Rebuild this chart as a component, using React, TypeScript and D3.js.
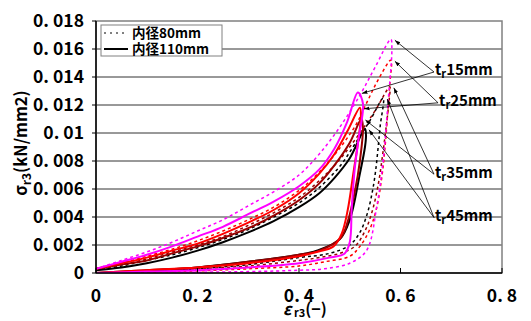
import React from "react";
import * as d3 from "d3";

const width = 531;
const height = 321;
const margin = { top: 21, right: 29, bottom: 48, left: 96 };
const plotW = width - margin.left - margin.right;
const plotH = height - margin.top - margin.bottom;

const FONT = "'Noto Sans CJK JP', 'Noto Sans', sans-serif";

const xTicks = [0, 0.2, 0.4, 0.6, 0.8];
const xTickLabels = ["0", "0. 2", "0. 4", "0. 6", "0. 8"];
const yTicks = [0, 0.002, 0.004, 0.006, 0.008, 0.01, 0.012, 0.014, 0.016, 0.018];
const yTickLabels = ["0", "0. 002", "0. 004", "0. 006", "0. 008", "0. 01", "0. 012", "0. 014", "0. 016", "0. 018"];

// each loop: upper branch from origin to peak, then lower branch back to origin
// inner diameter 110mm (solid)
const mag110: [number, number][] = [
  [0, 0.0003], [0.05, 0.0008], [0.1, 0.0013], [0.15, 0.0019], [0.2, 0.0026], [0.25, 0.0033],
  [0.3, 0.0042], [0.35, 0.0051], [0.4, 0.0062], [0.44, 0.0074], [0.47, 0.0089], [0.495, 0.0108],
  [0.516, 0.0129],
  [0.526, 0.0121], [0.517, 0.0095], [0.51, 0.0075], [0.504, 0.0047], [0.5, 0.0022],
  [0.49, 0.0014], [0.46, 0.0011], [0.4, 0.0007], [0.3, 0.0004], [0.2, 0.0002], [0.1, 0.0001], [0, 0],
];
const red110: [number, number][] = [
  [0, 0.0003], [0.05, 0.0007], [0.1, 0.0011], [0.15, 0.0016], [0.2, 0.0021], [0.25, 0.0028],
  [0.3, 0.0036], [0.35, 0.0045], [0.4, 0.0057], [0.44, 0.0071], [0.47, 0.0085], [0.495, 0.0101],
  [0.52, 0.0118],
  [0.522, 0.0112], [0.517, 0.0095], [0.507, 0.0071], [0.496, 0.0045], [0.484, 0.0028],
  [0.468, 0.0019], [0.435, 0.0015], [0.4, 0.0012], [0.3, 0.0007], [0.2, 0.0004], [0.1, 0.0002], [0, 0],
];
const dred110: [number, number][] = [
  [0, 0.0003], [0.05, 0.0006], [0.1, 0.0009], [0.15, 0.0014], [0.2, 0.0019], [0.25, 0.0025],
  [0.3, 0.0032], [0.35, 0.0041], [0.4, 0.0052], [0.44, 0.0064], [0.47, 0.0077], [0.5, 0.0093],
  [0.523, 0.011],
  [0.526, 0.0104], [0.52, 0.008], [0.51, 0.0058], [0.497, 0.0038], [0.482, 0.0025],
  [0.44, 0.0016], [0.4, 0.0013], [0.3, 0.0008], [0.2, 0.0004], [0.1, 0.0002], [0, 0],
];
const blk110: [number, number][] = [
  [0, 0.0002], [0.05, 0.0004], [0.1, 0.0007], [0.15, 0.0011], [0.2, 0.0016], [0.25, 0.0022],
  [0.3, 0.0029], [0.35, 0.0037], [0.4, 0.0047], [0.44, 0.0057], [0.47, 0.0068], [0.5, 0.0082],
  [0.53, 0.0103],
  [0.532, 0.0098], [0.53, 0.009], [0.52, 0.0071], [0.5, 0.0038], [0.48, 0.0024],
  [0.435, 0.0016], [0.4, 0.0013], [0.3, 0.0008], [0.2, 0.0004], [0.12, 0.0002], [0, 0],
];
// inner diameter 80mm (dotted)
const mag80: [number, number][] = [
  [0, 0.0003], [0.05, 0.0009], [0.1, 0.0015], [0.15, 0.0022], [0.2, 0.003], [0.25, 0.0038],
  [0.3, 0.0048], [0.35, 0.0058], [0.4, 0.007], [0.44, 0.0085], [0.48, 0.0104], [0.52, 0.0127],
  [0.55, 0.0147], [0.581, 0.0167],
  [0.583, 0.016], [0.575, 0.012], [0.566, 0.0081], [0.553, 0.0047], [0.533, 0.0016],
  [0.5, 0.0007], [0.45, 0.0003], [0.4, 0.0002], [0.3, 0.0001], [0, 0],
];
const red80: [number, number][] = [
  [0, 0.0003], [0.05, 0.0007], [0.1, 0.0012], [0.15, 0.0017], [0.2, 0.0023], [0.25, 0.003],
  [0.3, 0.0038], [0.35, 0.0047], [0.4, 0.0059], [0.44, 0.0072], [0.48, 0.0089], [0.514, 0.0107],
  [0.534, 0.0122], [0.556, 0.0138], [0.581, 0.0152],
  [0.579, 0.0135], [0.575, 0.0115], [0.569, 0.0088], [0.563, 0.0068], [0.552, 0.0045],
  [0.538, 0.003], [0.52, 0.0019], [0.5, 0.0012], [0.45, 0.0008], [0.4, 0.0005], [0.3, 0.0003],
  [0.2, 0.00015], [0, 0],
];
const dred80: [number, number][] = [
  [0, 0.0003], [0.05, 0.0006], [0.1, 0.001], [0.15, 0.0015], [0.2, 0.002], [0.25, 0.0026],
  [0.3, 0.0034], [0.35, 0.0043], [0.4, 0.0054], [0.44, 0.0066], [0.48, 0.0081], [0.52, 0.01],
  [0.55, 0.0116], [0.579, 0.0133],
  [0.578, 0.0125], [0.572, 0.0105], [0.565, 0.0085], [0.557, 0.0065], [0.545, 0.0045],
  [0.53, 0.003], [0.51, 0.0019], [0.48, 0.0014], [0.44, 0.0011], [0.4, 0.0009], [0.3, 0.0005],
  [0.2, 0.0003], [0.1, 0.0001], [0, 0],
];
const blk80: [number, number][] = [
  [0, 0.0002], [0.05, 0.0005], [0.1, 0.0009], [0.15, 0.0013], [0.2, 0.0018], [0.25, 0.0024],
  [0.3, 0.0031], [0.35, 0.004], [0.4, 0.005], [0.44, 0.0061], [0.48, 0.0076], [0.51, 0.0092],
  [0.54, 0.0109], [0.566, 0.0125],
  [0.56, 0.0105], [0.556, 0.009], [0.551, 0.0073], [0.545, 0.0059], [0.535, 0.0043],
  [0.52, 0.0029], [0.5, 0.002], [0.46, 0.0014], [0.4, 0.0011], [0.3, 0.0006], [0.2, 0.0003],
  [0.1, 0.0001], [0, 0],
];

const series = [
  { pts: blk80, color: "#000000", dashed: true },
  { pts: dred80, color: "#990000", dashed: true },
  { pts: red80, color: "#FF0000", dashed: true },
  { pts: mag80, color: "#FF00FF", dashed: true },
  { pts: blk110, color: "#000000", dashed: false },
  { pts: dred110, color: "#990000", dashed: false },
  { pts: red110, color: "#FF0000", dashed: false },
  { pts: mag110, color: "#FF00FF", dashed: false },
];

// annotation labels (data coords of label left/center) and the loops they point to
const notes = [
  { t: "15", eps: 0.668, sig: 0.0145, targets: [mag80, mag110] },
  { t: "25", eps: 0.676, sig: 0.0123, targets: [red80, red110] },
  { t: "35", eps: 0.668, sig: 0.0072, targets: [dred80, dred110] },
  { t: "45", eps: 0.668, sig: 0.0041, targets: [blk80, blk110] },
];

const peak = (pts: [number, number][]) => pts.reduce((a, b) => (b[1] > a[1] ? b : a));

export default function App() {
  const x = d3.scaleLinear().domain([0, 0.8]).range([margin.left, margin.left + plotW]);
  const y = d3.scaleLinear().domain([0, 0.018]).range([margin.top + plotH, margin.top]);
  const line = d3
    .line<[number, number]>()
    .x((d) => x(d[0]))
    .y((d) => y(d[1]))
    .curve(d3.curveCatmullRom.alpha(0.5));

  const x0 = x(0), x1 = x(0.8), y0 = y(0), y1 = y(0.018);

  return (
    <svg width={width} height={height} style={{ position: "absolute", left: 0, top: 0, background: "#fff" }}
      fontFamily={FONT} fontWeight="bold">
      <defs>
        <marker id="ah" viewBox="0 0 10 10" refX="10" refY="5" markerWidth="7" markerHeight="7" orient="auto">
          <path d="M0,1.5 L10,5 L0,8.5 Z" fill="#000" />
        </marker>
        <clipPath id="plot">
          <rect x={x0} y={y1} width={x1 - x0} height={y0 - y1} />
        </clipPath>
      </defs>

      {/* grid */}
      {yTicks.slice(1, -1).map((v) => (
        <line key={v} x1={x0} x2={x1} y1={y(v)} y2={y(v)} stroke="#333" strokeWidth={1} />
      ))}
      <rect x={x0} y={y1} width={x1 - x0} height={y0 - y1} fill="none" stroke="#808080" strokeWidth={1.5} />

      {/* curves */}
      <g clipPath="url(#plot)">
        {series.map((s, i) => (
          <path key={i} d={line(s.pts) || ""} fill="none" stroke={s.color}
            strokeWidth={s.dashed ? 1.5 : 2}
            strokeDasharray={s.dashed ? "3,3" : undefined} strokeLinejoin="round" />
        ))}
      </g>

      {/* axes */}
      <line x1={x0} x2={x0} y1={y1} y2={y0} stroke="#000" strokeWidth={1.5} />
      <line x1={x0} x2={x1} y1={y0} y2={y0} stroke="#000" strokeWidth={1.5} />
      {yTicks.map((v, i) => (
        <g key={v}>
          <line x1={x0 - 4} x2={x0} y1={y(v)} y2={y(v)} stroke="#000" />
          <text x={x0 - 12} y={y(v)} dy="0.36em" textAnchor="end" fontSize={17.5}>{yTickLabels[i]}</text>
        </g>
      ))}
      {xTicks.map((v, i) => (
        <g key={v}>
          <line x1={x(v)} x2={x(v)} y1={y0} y2={y0 - 5} stroke="#000" />
          <text x={x(v)} y={y0 + 29} textAnchor="middle" fontSize={17.5}>{xTickLabels[i]}</text>
        </g>
      ))}

      {/* axis titles */}
      <text transform={`translate(27,${(y0 + y1) / 2 - 4}) rotate(-90)`} textAnchor="middle" fontSize={16.5}>
        σ<tspan dy={4} fontSize={12}>r3</tspan><tspan dy={-4}>(kN/mm2)</tspan>
      </text>
      <text x={x(0.4) - 16} y={y0 + 42} fontSize={16}>
        <tspan fontStyle="italic">ε</tspan><tspan dy={2} fontSize={11}> r3</tspan><tspan dy={-2}>(−)</tspan>
      </text>

      {/* annotations */}
      {notes.map((n) => {
        const lx = x(n.eps);
        const ly = y(n.sig);
        return (
          <g key={n.t}>
            {n.targets.map((pts, j) => {
              const p = peak(pts);
              return (
                <line key={j} x1={lx - 1} y1={ly + 2} x2={x(p[0]) + 4} y2={y(p[1]) + 1}
                  stroke="#000" strokeWidth={0.8} markerEnd="url(#ah)" />
              );
            })}
            <text x={lx} y={ly} dy="0.36em" fontSize={15}>
              t<tspan dy={3} fontSize={11}>r</tspan><tspan dy={-3}>{n.t}mm</tspan>
            </text>
          </g>
        );
      })}

      {/* legend */}
      <g>
        <rect x={101} y={25} width={121} height={31} fill="#fff" stroke="#808080" />
        <line x1={104} x2={128} y1={33} y2={33} stroke="#000" strokeWidth={1} strokeDasharray="2,4" />
        <line x1={104} x2={128} y1={49} y2={49} stroke="#000" strokeWidth={2} />
        <text x={132} y={33} dy="0.36em" fontSize={13.5}>内径80mm</text>
        <text x={132} y={49} dy="0.36em" fontSize={13.5}>内径110mm</text>
      </g>
    </svg>
  );
}
